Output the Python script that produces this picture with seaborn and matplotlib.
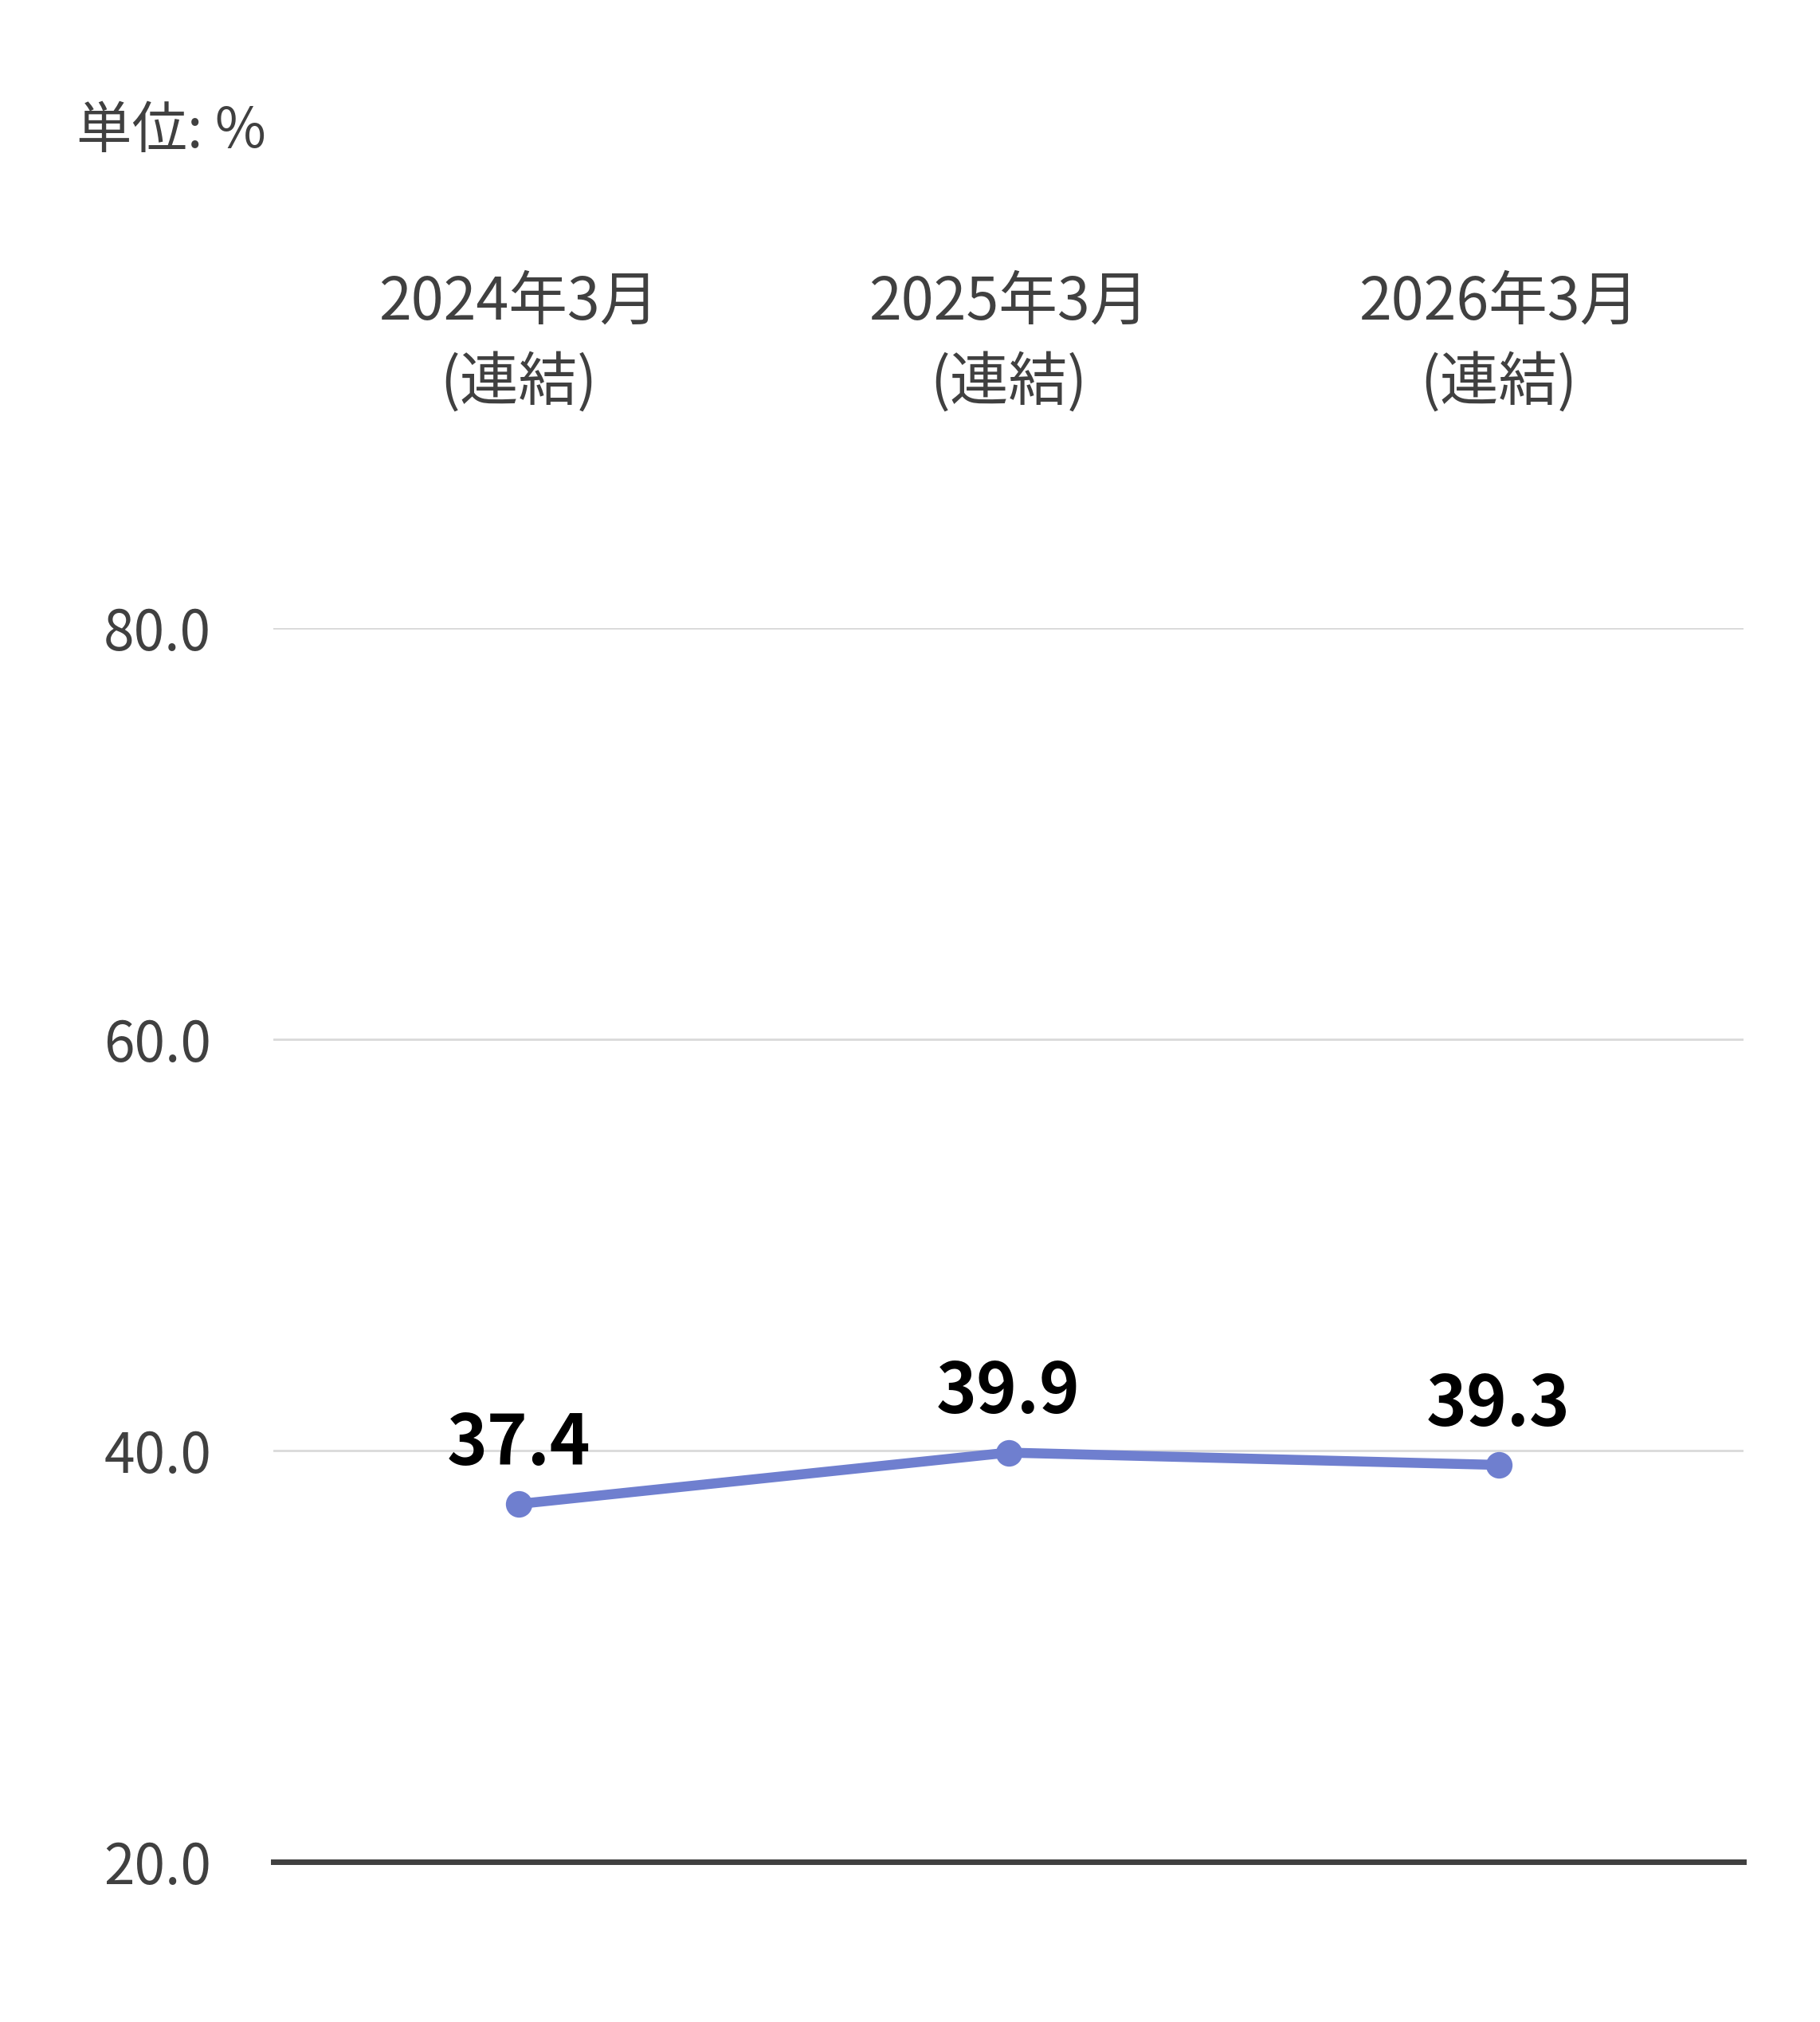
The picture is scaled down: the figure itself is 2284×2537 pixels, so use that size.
import numpy as np
import pandas as pd
import matplotlib
matplotlib.use("Agg")
import matplotlib.pyplot as plt
import seaborn as sns

# Data
periods = ["2024年3月\n(連結)", "2025年3月\n(連結)", "2026年3月\n(連結)"]
ratios = [37.4, 39.9, 39.3]
y_ticks = [20.0, 40.0, 60.0, 80.0]

df = pd.DataFrame({"period": periods, "ratio": ratios})

sns.set_style("white")
plt.rcParams["font.family"] = ["Noto Sans CJK JP", "DejaVu Sans"]

text_color = "#404040"
line_color = "#6f7fcf"

fig = plt.figure(figsize=(22.84, 25.37), dpi=100)
ax = fig.add_axes([343 / 2284, 1 - 2336 / 2537, (2188 - 343) / 2284, (2336 - 788) / 2537])

x = np.arange(len(periods))
sns.lineplot(x=x, y=df["ratio"], ax=ax, color=line_color, linewidth=9,
             marker="o", markersize=24, markeredgewidth=0, markerfacecolor=line_color)

# Data labels
for xi, v in zip(x, ratios):
    ax.annotate(f"{v:.1f}", (xi, v), xytext=(0, 22), textcoords="offset points",
                ha="center", va="bottom", fontsize=62, fontweight="bold", color="black")

ax.set_xlim(-0.5, len(periods) - 0.5)
ax.set_ylim(20, 80)
ax.set_yticks(y_ticks)
ax.set_yticklabels([f"{t:.1f}" for t in y_ticks])
ax.yaxis.grid(True, color="#d9d9d9", linewidth=2)
ax.set_axisbelow(True)

ax.xaxis.tick_top()
ax.set_xticks(x)
ax.set_xticklabels(periods, linespacing=1.45)
ax.tick_params(axis="x", length=0, pad=193, labelsize=53, labelcolor=text_color)
ax.tick_params(axis="y", length=0, pad=56, labelsize=50, labelcolor=text_color)
ax.set_xlabel("")
ax.set_ylabel("")

for side in ["top", "left", "right"]:
    ax.spines[side].set_visible(False)
ax.spines["bottom"].set_color(text_color)
ax.spines["bottom"].set_linewidth(5)
ax.spines["bottom"].set_zorder(3)

fig.text(96 / 2284, 1 - 165 / 2537, "単位: %", fontsize=50, color=text_color,
         ha="left", va="center")

fig.savefig("out.png", dpi=100)
